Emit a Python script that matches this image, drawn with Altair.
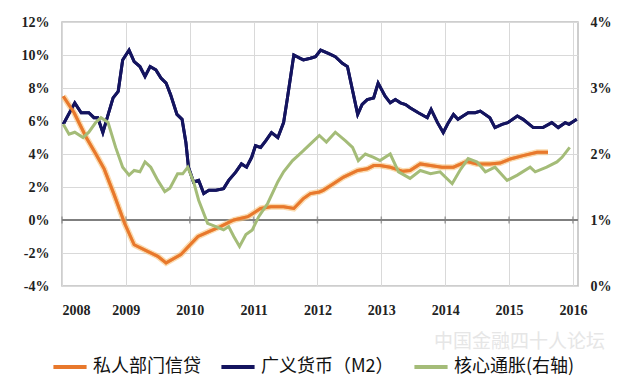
import altair as alt
import pandas as pd

# ---- data ----
years = [2008, 2009, 2010, 2011, 2012, 2013, 2014, 2015, 2016]

credit_t = [2008.02, 2008.19, 2008.38, 2008.53, 2008.66, 2008.81, 2008.98, 2009.13, 2009.34, 2009.50,
            2009.63, 2009.86, 2009.98, 2010.13, 2010.30, 2010.48, 2010.69, 2010.91, 2011.11, 2011.27,
            2011.47, 2011.63, 2011.78, 2011.89, 2012.03, 2012.09, 2012.25, 2012.41, 2012.63, 2012.78,
            2012.88, 2012.98, 2013.14, 2013.34, 2013.45, 2013.61, 2013.77, 2013.95, 2014.13, 2014.34,
            2014.50, 2014.70, 2014.86, 2015.02, 2015.22, 2015.44, 2015.61]
credit_v = [7.5, 6.5, 5.0, 4.0, 3.1, 1.6, -0.2, -1.5, -1.9, -2.2,
            -2.6, -2.1, -1.6, -1.0, -0.7, -0.4, 0.0, 0.2, 0.7, 0.8,
            0.8, 0.7, 1.3, 1.6, 1.7, 1.8, 2.2, 2.6, 3.0, 3.1,
            3.3, 3.3, 3.2, 2.95, 3.0, 3.4, 3.3, 3.2, 3.2, 3.55,
            3.4, 3.4, 3.45, 3.7, 3.9, 4.1, 4.1]

m2_t = [2008.02, 2008.20, 2008.30, 2008.42, 2008.50, 2008.56, 2008.64, 2008.70, 2008.80, 2008.88,
        2008.95, 2009.05, 2009.13, 2009.22, 2009.30, 2009.38, 2009.47, 2009.55, 2009.63, 2009.70,
        2009.80, 2009.88, 2009.94, 2009.98, 2010.06, 2010.14, 2010.22, 2010.30, 2010.41, 2010.53,
        2010.61, 2010.72, 2010.81, 2010.89, 2010.97, 2011.03, 2011.11, 2011.19, 2011.28, 2011.38,
        2011.47, 2011.53, 2011.63, 2011.73, 2011.78, 2011.89, 2011.97, 2012.05, 2012.17, 2012.28,
        2012.39, 2012.47, 2012.63, 2012.70, 2012.78, 2012.88, 2012.95, 2013.06, 2013.14, 2013.22,
        2013.30, 2013.38, 2013.45, 2013.58, 2013.72, 2013.78, 2013.88, 2013.97, 2014.05, 2014.13,
        2014.20, 2014.36, 2014.47, 2014.55, 2014.70, 2014.78, 2014.89, 2014.98, 2015.13, 2015.22,
        2015.38, 2015.53, 2015.67, 2015.77, 2015.88, 2015.94, 2016.06]
m2_v = [5.8, 7.1, 6.5, 6.5, 6.2, 6.2, 5.3, 6.1, 7.4, 7.8,
        9.7, 10.3, 9.6, 9.3, 8.7, 9.3, 9.1, 8.6, 8.3, 7.6,
        6.4, 6.1, 4.7, 3.2, 2.3, 2.4, 1.6, 1.8, 1.8, 1.9,
        2.4, 2.9, 3.4, 3.2, 3.8, 4.5, 4.4, 4.8, 5.3, 5.0,
        5.9, 7.4, 10.0, 9.8, 9.7, 9.8, 9.9, 10.3, 10.1, 9.9,
        9.5, 9.3, 6.4, 7.0, 7.3, 7.4, 8.3, 7.5, 7.1, 7.3,
        7.1, 7.0, 6.8, 6.5, 6.2, 6.7, 5.9, 5.3, 5.9, 6.4,
        6.1, 6.5, 6.5, 6.6, 6.2, 5.6, 5.8, 5.9, 6.3, 6.1,
        5.6, 5.6, 5.9, 5.6, 5.9, 5.8, 6.1]

core_t = [2008.02, 2008.11, 2008.20, 2008.33, 2008.42, 2008.53, 2008.61, 2008.72, 2008.84, 2008.95,
          2009.05, 2009.13, 2009.22, 2009.30, 2009.39, 2009.50, 2009.61, 2009.69, 2009.81, 2009.89,
          2009.97, 2010.06, 2010.14, 2010.28, 2010.41, 2010.53, 2010.61, 2010.69, 2010.78, 2010.88,
          2010.98, 2011.08, 2011.22, 2011.38, 2011.47, 2011.61, 2011.70, 2011.78, 2011.92, 2012.03,
          2012.14, 2012.28, 2012.44, 2012.55, 2012.64, 2012.75, 2012.88, 2012.98, 2013.14, 2013.27,
          2013.45, 2013.61, 2013.77, 2013.92, 2014.11, 2014.23, 2014.36, 2014.50, 2014.63, 2014.78,
          2014.97, 2015.13, 2015.33, 2015.41, 2015.59, 2015.75, 2015.83, 2015.95]
core_v = [2.45, 2.30, 2.33, 2.25, 2.33, 2.48, 2.55, 2.48, 2.10, 1.80,
          1.68, 1.75, 1.73, 1.88, 1.80, 1.60, 1.43, 1.48, 1.70, 1.70,
          1.80, 1.58, 1.30, 0.95, 0.90, 0.85, 0.90, 0.75, 0.60, 0.78,
          0.85, 1.05, 1.25, 1.58, 1.73, 1.90, 1.98, 2.05, 2.18, 2.28,
          2.18, 2.33, 2.20, 2.10, 1.90, 2.00, 1.95, 1.90, 2.00, 1.73,
          1.63, 1.75, 1.70, 1.73, 1.55, 1.75, 1.93, 1.88, 1.73, 1.80,
          1.60, 1.68, 1.80, 1.73, 1.80, 1.88, 1.95, 2.10]

series_names = ["私人部门信贷", "广义货币（M2）", "核心通胀(右轴)"]
series_colors = ["#E8782C", "#14145F", "#A4BC78"]
left_ticks = [-4, -2, 0, 2, 4, 6, 8, 10, 12]
right_ticks = [0, 1, 2, 3, 4]
watermark = "中国金融四十人论坛"

# ---- tables ----
credit_df = pd.DataFrame({"t": credit_t, "v": credit_v, "s": series_names[0]})
m2_df = pd.DataFrame({"t": m2_t, "v": m2_v, "s": series_names[1]})
left_df = pd.concat([m2_df, credit_df], ignore_index=True)
core_df = pd.DataFrame({"t": core_t, "v": core_v, "s": series_names[2]})
year_df = pd.DataFrame({"t": years, "v": [0] * len(years)})
one_df = pd.DataFrame({"a": [0]})

LABEL_FONT = "Liberation Serif"

x_enc = alt.X(
    "t:Q",
    scale=alt.Scale(domain=[2008, 2016.08], nice=False, zero=False),
    axis=alt.Axis(values=years, format="d", grid=True, gridColor="#d9d9d9",
                  domain=False, ticks=False, labelPadding=17, title=None,
                  labelFont=LABEL_FONT, labelFontWeight="bold", labelFontSize=14,
                  labelColor="#222222", labelOverlap=False),
)

y_left_scale = alt.Scale(domain=[-4, 12], nice=False, zero=False)
y_left = alt.Y(
    "v:Q", scale=y_left_scale,
    axis=alt.Axis(values=left_ticks, labelExpr="datum.value + '%'", grid=True,
                  gridColor="#d9d9d9", domain=False, ticks=False, labelPadding=13,
                  title=None, labelFont=LABEL_FONT, labelFontWeight="bold",
                  labelFontSize=14, labelColor="#222222", orient="left",
                  labelOverlap=False, tickCount=9),
)

color_enc = alt.Color(
    "s:N",
    scale=alt.Scale(domain=series_names, range=series_colors),
    legend=alt.Legend(title=None, orient="none", direction="horizontal",
                      legendX=-11, legendY=326, symbolType="stroke",
                      symbolSize=1100, symbolStrokeWidth=4, labelFontSize=18,
                      labelFont="Noto Sans CJK SC", labelColor="#111111",
                      labelOffset=4, columnPadding=12, padding=0),
)

zero_rule = alt.Chart(year_df).mark_rule(color="#7f7f7f", strokeWidth=2).encode(
    y=y_left, x=alt.value(0), x2=alt.value(516)
)
zero_ticks = alt.Chart(year_df).mark_tick(color="#7f7f7f", thickness=1.5, size=7,
                                          orient="vertical").encode(
    x=x_enc, y=y_left
)

halo = alt.Chart(credit_df).mark_line(color="#F7C27A", strokeWidth=6, opacity=0.6).encode(
    x=x_enc, y=y_left
)

left_lines = alt.Chart(left_df).mark_line(strokeWidth=3).encode(
    x=x_enc, y=y_left, color=color_enc, order=alt.Order("t:Q")
)

mark_wm = alt.Chart(one_df).mark_text(
    text=watermark, font="Noto Sans CJK SC", fontSize=19, color="#e6e6e6", align="left"
).encode(x=alt.value(372), y=alt.value(320))

left_layer = alt.layer(mark_wm, zero_rule, zero_ticks, left_lines, halo,
                       left_lines.encode())

right_line = alt.Chart(core_df).mark_line(strokeWidth=3).encode(
    x=x_enc,
    y=alt.Y("v:Q", scale=alt.Scale(domain=[0, 4], nice=False, zero=False),
            axis=alt.Axis(values=right_ticks, labelExpr="datum.value + '%'", grid=False,
                          domain=False, ticks=False, labelPadding=12, title=None,
                          labelFont=LABEL_FONT, labelFontWeight="bold", labelFontSize=14,
                          labelColor="#222222", orient="right", labelOverlap=False)),
    color=alt.Color("s:N"),
)

chart = alt.layer(left_layer, right_line).resolve_scale(y="independent").properties(
    width=516, height=264,
    autosize=alt.AutoSizeParams(type="none"),
    padding={"left": 54, "top": 14, "right": 51, "bottom": 93},
    background="white",
).configure_view(stroke="#bfbfbf", strokeWidth=1.5)

chart.save("out.html", embed_options={"renderer": "svg", "actions": False})
